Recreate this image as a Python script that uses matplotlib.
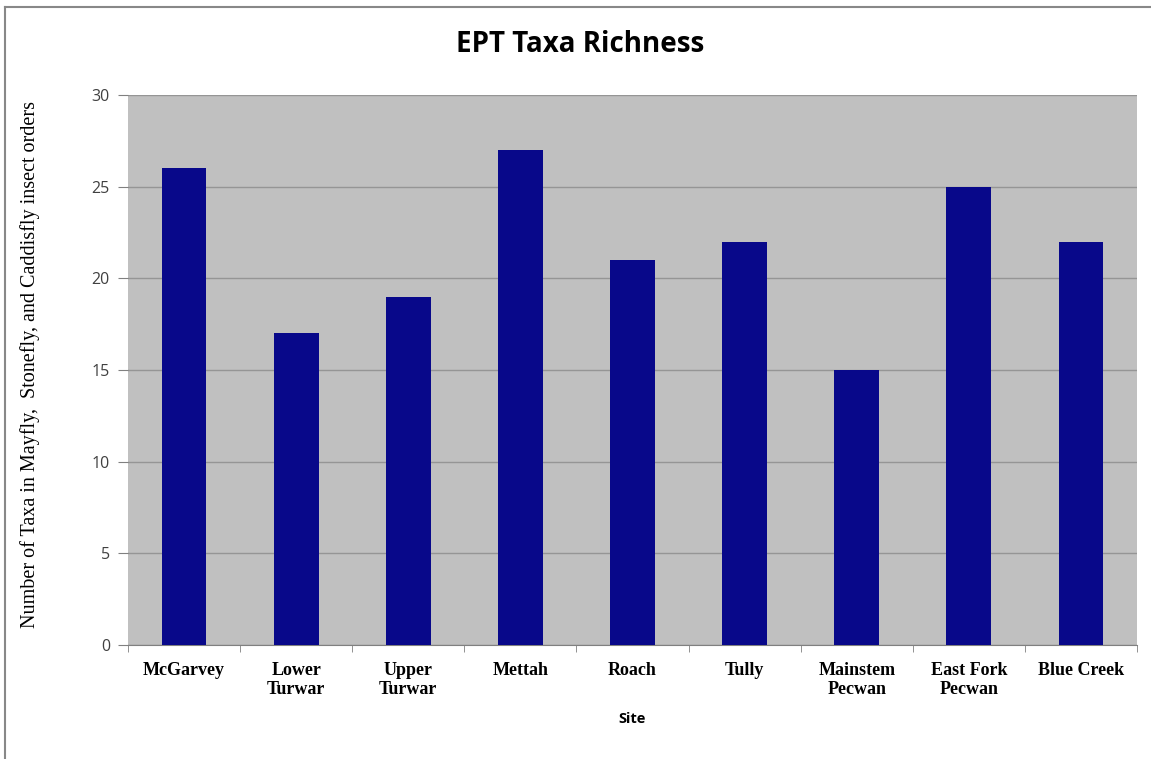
import matplotlib.pyplot as plt
from matplotlib.lines import Line2D

sites = ["McGarvey", "Lower\nTurwar", "Upper\nTurwar", "Mettah", "Roach",
         "Tully", "Mainstem\nPecwan", "East Fork\nPecwan", "Blue Creek"]
taxa = [26, 17, 19, 27, 21, 22, 15, 25, 22]
yticks = [0, 5, 10, 15, 20, 25, 30]

fig = plt.figure(figsize=(11.51, 7.59), dpi=100)
ax = fig.add_axes([128 / 1151, 1 - 645 / 759, 1009 / 1151, 550 / 759])

ax.set_facecolor("#c0c0c0")
x = range(len(sites))
ax.bar(x, taxa, width=0.4, color="#08088a", zorder=3)

ax.set_xlim(-0.5, len(sites) - 0.5)
ax.set_ylim(0, 30)
ax.set_yticks(yticks)
ax.set_yticklabels([str(v) for v in yticks], family="Open Sans", fontsize=11.5, color="#404040")
ax.yaxis.grid(True, color="#959595", linewidth=1, zorder=1)

ax.set_xticks(x)
ax.set_xticklabels(sites, family="Liberation Serif", fontweight="bold", fontsize=13,
                   linespacing=1.2, va="top")
ax.set_xticks([i - 0.5 for i in range(len(sites) + 1)], minor=True)
ax.tick_params(axis="x", which="major", length=0, pad=12)
ax.tick_params(axis="x", which="minor", length=5, color="#808080", direction="out")
ax.tick_params(axis="y", length=7, color="#808080", pad=6)

for side in ["top", "right", "left"]:
    ax.spines[side].set_visible(False)
ax.spines["bottom"].set_color("#808080")

ax.set_xlabel("Site", family="Open Sans", fontweight="bold", fontsize=10.5, labelpad=10)
fig.text(580 / 1151, 1 - 44 / 759, "EPT Taxa Richness", family="Open Sans",
         fontweight="bold", fontsize=20, ha="center", va="center")
fig.text(30 / 1151, 1 - 365 / 759,
         "Number of Taxa in Mayfly,  Stonefly, and Caddisfly insect orders",
         family="Liberation Serif", fontsize=14.5, rotation=90, ha="center", va="center")

# outer chart frame
fig.add_artist(Line2D([5 / 1151, 1], [1 - 7 / 759, 1 - 7 / 759], color="#888888", linewidth=1.5))
fig.add_artist(Line2D([5 / 1151, 5 / 1151], [0, 1 - 7 / 759], color="#888888", linewidth=1.5))

fig.savefig("out.png", dpi=100)
